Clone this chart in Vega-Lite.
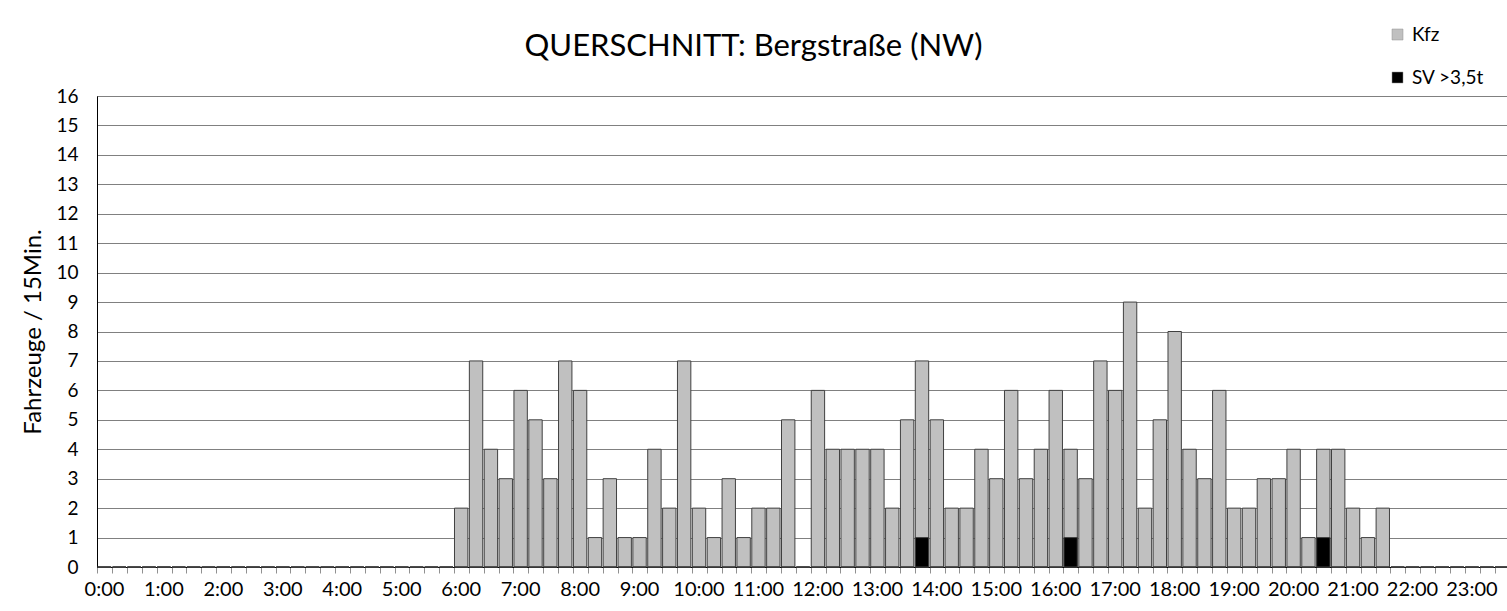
{
  "$schema": "https://vega.github.io/schema/vega-lite/v6.json",
  "autosize": {"type": "none"},
  "padding": {"left": 97, "top": 96, "right": 0, "bottom": 44},
  "width": 1427,
  "height": 471,
  "background": "white",
  "config": {"font": "Lato", "view": {"stroke": "#404040"}},
  "title": {"text": "QUERSCHNITT: Bergstraße (NW)", "fontSize": 31, "font": "Lato", "fontWeight": "normal", "color": "black", "anchor": "middle", "frame": "group", "baseline": "alphabetic", "dx": -57, "offset": -62},
  "data": {"values": [
    {"t": "0:00", "kfz": 0, "sv": 0}, {"t": "0:15", "kfz": 0, "sv": 0}, {"t": "0:30", "kfz": 0, "sv": 0}, {"t": "0:45", "kfz": 0, "sv": 0},
    {"t": "1:00", "kfz": 0, "sv": 0}, {"t": "1:15", "kfz": 0, "sv": 0}, {"t": "1:30", "kfz": 0, "sv": 0}, {"t": "1:45", "kfz": 0, "sv": 0},
    {"t": "2:00", "kfz": 0, "sv": 0}, {"t": "2:15", "kfz": 0, "sv": 0}, {"t": "2:30", "kfz": 0, "sv": 0}, {"t": "2:45", "kfz": 0, "sv": 0},
    {"t": "3:00", "kfz": 0, "sv": 0}, {"t": "3:15", "kfz": 0, "sv": 0}, {"t": "3:30", "kfz": 0, "sv": 0}, {"t": "3:45", "kfz": 0, "sv": 0},
    {"t": "4:00", "kfz": 0, "sv": 0}, {"t": "4:15", "kfz": 0, "sv": 0}, {"t": "4:30", "kfz": 0, "sv": 0}, {"t": "4:45", "kfz": 0, "sv": 0},
    {"t": "5:00", "kfz": 0, "sv": 0}, {"t": "5:15", "kfz": 0, "sv": 0}, {"t": "5:30", "kfz": 0, "sv": 0}, {"t": "5:45", "kfz": 0, "sv": 0},
    {"t": "6:00", "kfz": 2, "sv": 0}, {"t": "6:15", "kfz": 7, "sv": 0}, {"t": "6:30", "kfz": 4, "sv": 0}, {"t": "6:45", "kfz": 3, "sv": 0},
    {"t": "7:00", "kfz": 6, "sv": 0}, {"t": "7:15", "kfz": 5, "sv": 0}, {"t": "7:30", "kfz": 3, "sv": 0}, {"t": "7:45", "kfz": 7, "sv": 0},
    {"t": "8:00", "kfz": 6, "sv": 0}, {"t": "8:15", "kfz": 1, "sv": 0}, {"t": "8:30", "kfz": 3, "sv": 0}, {"t": "8:45", "kfz": 1, "sv": 0},
    {"t": "9:00", "kfz": 1, "sv": 0}, {"t": "9:15", "kfz": 4, "sv": 0}, {"t": "9:30", "kfz": 2, "sv": 0}, {"t": "9:45", "kfz": 7, "sv": 0},
    {"t": "10:00", "kfz": 2, "sv": 0}, {"t": "10:15", "kfz": 1, "sv": 0}, {"t": "10:30", "kfz": 3, "sv": 0}, {"t": "10:45", "kfz": 1, "sv": 0},
    {"t": "11:00", "kfz": 2, "sv": 0}, {"t": "11:15", "kfz": 2, "sv": 0}, {"t": "11:30", "kfz": 5, "sv": 0}, {"t": "11:45", "kfz": 0, "sv": 0},
    {"t": "12:00", "kfz": 6, "sv": 0}, {"t": "12:15", "kfz": 4, "sv": 0}, {"t": "12:30", "kfz": 4, "sv": 0}, {"t": "12:45", "kfz": 4, "sv": 0},
    {"t": "13:00", "kfz": 4, "sv": 0}, {"t": "13:15", "kfz": 2, "sv": 0}, {"t": "13:30", "kfz": 5, "sv": 0}, {"t": "13:45", "kfz": 7, "sv": 1},
    {"t": "14:00", "kfz": 5, "sv": 0}, {"t": "14:15", "kfz": 2, "sv": 0}, {"t": "14:30", "kfz": 2, "sv": 0}, {"t": "14:45", "kfz": 4, "sv": 0},
    {"t": "15:00", "kfz": 3, "sv": 0}, {"t": "15:15", "kfz": 6, "sv": 0}, {"t": "15:30", "kfz": 3, "sv": 0}, {"t": "15:45", "kfz": 4, "sv": 0},
    {"t": "16:00", "kfz": 6, "sv": 0}, {"t": "16:15", "kfz": 4, "sv": 1}, {"t": "16:30", "kfz": 3, "sv": 0}, {"t": "16:45", "kfz": 7, "sv": 0},
    {"t": "17:00", "kfz": 6, "sv": 0}, {"t": "17:15", "kfz": 9, "sv": 0}, {"t": "17:30", "kfz": 2, "sv": 0}, {"t": "17:45", "kfz": 5, "sv": 0},
    {"t": "18:00", "kfz": 8, "sv": 0}, {"t": "18:15", "kfz": 4, "sv": 0}, {"t": "18:30", "kfz": 3, "sv": 0}, {"t": "18:45", "kfz": 6, "sv": 0},
    {"t": "19:00", "kfz": 2, "sv": 0}, {"t": "19:15", "kfz": 2, "sv": 0}, {"t": "19:30", "kfz": 3, "sv": 0}, {"t": "19:45", "kfz": 3, "sv": 0},
    {"t": "20:00", "kfz": 4, "sv": 0}, {"t": "20:15", "kfz": 1, "sv": 0}, {"t": "20:30", "kfz": 4, "sv": 1}, {"t": "20:45", "kfz": 4, "sv": 0},
    {"t": "21:00", "kfz": 2, "sv": 0}, {"t": "21:15", "kfz": 1, "sv": 0}, {"t": "21:30", "kfz": 2, "sv": 0}, {"t": "21:45", "kfz": 0, "sv": 0},
    {"t": "22:00", "kfz": 0, "sv": 0}, {"t": "22:15", "kfz": 0, "sv": 0}, {"t": "22:30", "kfz": 0, "sv": 0}, {"t": "22:45", "kfz": 0, "sv": 0},
    {"t": "23:00", "kfz": 0, "sv": 0}, {"t": "23:15", "kfz": 0, "sv": 0}, {"t": "23:30", "kfz": 0, "sv": 0}, {"t": "23:45", "kfz": 0, "sv": 0}
  ]},
  "transform": [{"fold": ["kfz", "sv"], "as": ["typ", "n"]}],
  "mark": {"type": "bar", "stroke": "#404040", "strokeWidth": 1},
  "encoding": {
    "x": {
      "field": "t", "type": "ordinal", "sort": null,
      "scale": {"paddingInner": 0.1, "paddingOuter": 0.05},
      "axis": {
        "title": null, "bandPosition": 0, "labelOffset": 0,
        "labelExpr": "indexof(datum.label, ':00') > 0 ? datum.label : ''",
        "labelAngle": 0, "labelFontSize": 20, "labelColor": "black", "labelOverlap": false,
        "tickSize": 6, "tickColor": "#909090", "domainColor": "black", "labelPadding": 6
      }
    },
    "y": {
      "field": "n", "type": "quantitative", "stack": null,
      "scale": {"domain": [0, 16], "nice": false},
      "axis": {
        "title": "Fahrzeuge / 15Min.", "titleFontSize": 24, "titleFontWeight": "normal", "titleColor": "black", "titlePadding": 10,
        "values": [0, 1, 2, 3, 4, 5, 6, 7, 8, 9, 10, 11, 12, 13, 14, 15, 16], "labelOverlap": false,
        "grid": true, "gridColor": "#808080", "ticks": false, "labelPadding": 19,
        "labelFontSize": 19, "labelColor": "black", "domainColor": "black"
      }
    },
    "color": {
      "field": "typ", "type": "nominal",
      "scale": {"domain": ["kfz", "sv"], "range": ["#c0c0c0", "#000000"]},
      "legend": {
        "orient": "none", "legendX": 1291, "legendY": -71, "title": null,
        "labelExpr": "datum.label == 'kfz' ? 'Kfz' : 'SV >3,5t'",
        "symbolType": "square", "symbolSize": 121, "symbolStrokeWidth": 0.5, "symbolStrokeColor": "#909090",
        "labelFontSize": 19, "labelColor": "black", "rowPadding": 23, "labelOffset": 5
      }
    }
  }
}
